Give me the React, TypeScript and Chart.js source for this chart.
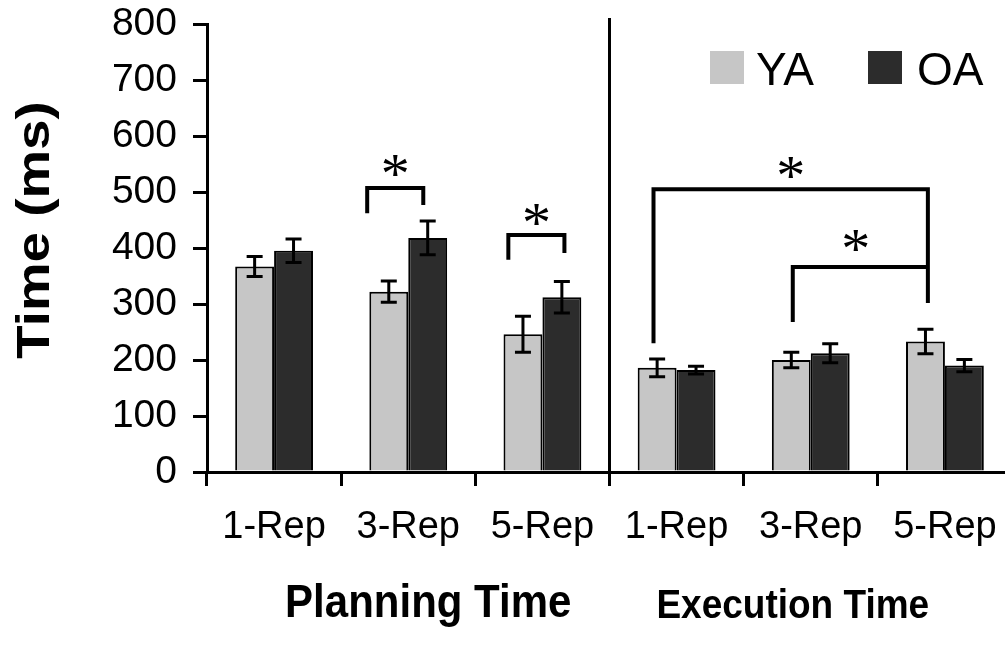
import { useEffect, useRef } from 'react';
import { Chart, registerables } from 'chart.js';

Chart.register(...registerables);

const FONT = '"Liberation Sans", Arial, Helvetica, sans-serif';

// ---- data ----
const categories = ['1-Rep', '3-Rep', '5-Rep', '1-Rep', '3-Rep', '5-Rep'];
const yaValues = [367, 322, 246, 186, 200, 233];
const oaValues = [395, 418, 312, 182, 212, 190];
const yaErrors = [18, 19, 32, 16, 14, 22];
const oaErrors = [21, 30, 28, 7, 17, 11];
const seriesNames = ['YA', 'OA'];
const yMin = 0;
const yMax = 800;
const yStep = 100;
const axisTitle = 'Time (ms)';
const groupLabels = ['Planning Time', 'Execution Time'];
const groupLabelPos = [1.149, 3.866]; // in category units
const groupDivider = 2.5; // category units
// significance brackets: category-unit x range, values for top and leg ends, star position
const bracketFrom = [0.694, 1.746, 2.828, 3.866];
const bracketTo = [1.112, 2.164, 4.873, 4.873];
const bracketTop = [507, 423, 505, 366];
const bracketLeftEnd = [462, 379, 230, 268];
const bracketRightEnd = [477, 391, 302, 366];
const starX = [0.903, 1.955, 3.851, 4.336];
const starY = [552, 464, 548, 418];

const YA_COLOR = '#c6c6c6';
const OA_COLOR = '#2c2c2c';

const annotationPlugin = {
  id: 'annotations',
  afterDatasetsDraw(chart: any) {
    const { ctx, scales } = chart;
    const y = scales.y;
    ctx.save();
    chart.data.datasets.forEach((ds: any, d: number) => {
      const meta = chart.getDatasetMeta(d);
      meta.data.forEach((el: any, i: number) => {
        const v = ds.data[i];
        const e = ds.errors[i];
        const top = y.getPixelForValue(v + e);
        const bot = y.getPixelForValue(v - e);
        ctx.strokeStyle = '#000';
        ctx.lineWidth = 3;
        ctx.beginPath();
        ctx.moveTo(el.x, top);
        ctx.lineTo(el.x, bot);
        ctx.moveTo(el.x - 8, top);
        ctx.lineTo(el.x + 8, top);
        ctx.moveTo(el.x - 8, bot);
        ctx.lineTo(el.x + 8, bot);
        ctx.stroke();
      });
    });
    ctx.restore();
  },
  afterDraw(chart: any) {
    const { ctx, scales, chartArea } = chart;
    const x = scales.x;
    const y = scales.y;
    const p0 = x.getPixelForValue(0);
    const step = x.getPixelForValue(1) - p0;
    const ux = (u: number) => p0 + u * step;
    ctx.save();
    // divider
    ctx.strokeStyle = '#000';
    ctx.lineWidth = 3;
    ctx.beginPath();
    ctx.moveTo(ux(groupDivider), chartArea.top - 6);
    ctx.lineTo(ux(groupDivider), y.getPixelForValue(0));
    ctx.stroke();
    // brackets
    ctx.lineWidth = 4;
    ctx.lineCap = 'butt';
    ctx.lineJoin = 'miter';
    for (let i = 0; i < bracketFrom.length; i++) {
      ctx.beginPath();
      ctx.moveTo(ux(bracketFrom[i]), y.getPixelForValue(bracketLeftEnd[i]));
      ctx.lineTo(ux(bracketFrom[i]), y.getPixelForValue(bracketTop[i]));
      ctx.lineTo(ux(bracketTo[i]), y.getPixelForValue(bracketTop[i]));
      ctx.lineTo(ux(bracketTo[i]), y.getPixelForValue(bracketRightEnd[i]));
      ctx.stroke();
      ctx.fillStyle = '#000';
      ctx.font = '58px "Liberation Serif", "Times New Roman", serif';
      ctx.textAlign = 'center';
      ctx.textBaseline = 'alphabetic';
      ctx.fillText('*', ux(starX[i]), y.getPixelForValue(starY[i]) + 30);
    }
    // legend
    const ds = chart.data.datasets;
    const boxX = [710, 868];
    const textX = [756, 917];
    ctx.font = `46px ${FONT}`;
    ctx.textAlign = 'left';
    ctx.textBaseline = 'alphabetic';
    ds.forEach((d: any, i: number) => {
      ctx.fillStyle = d.backgroundColor;
      ctx.fillRect(boxX[i], 51, 34, 33);
      ctx.fillStyle = '#000';
      ctx.fillText(d.label, textX[i], 85);
    });
    // group labels (slightly tall lettering as in the original)
    ctx.textAlign = 'center';
    ctx.textBaseline = 'middle';
    ctx.save();
    ctx.translate(ux(groupLabelPos[0]), 604);
    ctx.scale(1, 1.12);
    ctx.font = `bold 42px ${FONT}`;
    ctx.fillText(groupLabels[0], 0, 0);
    ctx.restore();
    ctx.save();
    ctx.translate(ux(groupLabelPos[1]), 607);
    ctx.scale(1, 1.1);
    ctx.font = `bold 37px ${FONT}`;
    ctx.fillText(groupLabels[1], 0, 0);
    ctx.restore();
    // y axis title (stretched along its length as in the original)
    ctx.save();
    ctx.translate(36, 230);
    ctx.rotate(-Math.PI / 2);
    ctx.scale(1.19, 1);
    ctx.font = `bold 46px ${FONT}`;
    ctx.fillText(axisTitle, 0, 0);
    ctx.restore();
    ctx.restore();
  },
};

export default function App() {
  const ref = useRef<HTMLCanvasElement>(null);
  useEffect(() => {
    document.body.style.margin = '0';
    const chart = new Chart(ref.current as HTMLCanvasElement, {
      type: 'bar',
      data: {
        labels: categories,
        datasets: [
          {
            label: seriesNames[0],
            data: yaValues,
            errors: yaErrors,
            backgroundColor: YA_COLOR,
            borderColor: '#000',
            borderWidth: 2,
          } as any,
          {
            label: seriesNames[1],
            data: oaValues,
            errors: oaErrors,
            backgroundColor: OA_COLOR,
            borderColor: '#000',
            borderWidth: 2,
          } as any,
        ],
      },
      options: {
        responsive: false,
        animation: false,
        layout: { padding: { top: 24, left: 0, right: 0, bottom: 0 } },
        plugins: { legend: { display: false }, tooltip: { enabled: false } },
        datasets: { bar: { categoryPercentage: 0.58, barPercentage: 1 } },
        scales: {
          x: {
            grid: { offset: true, drawOnChartArea: false, color: '#000', lineWidth: 3, tickLength: 14 },
            border: { color: '#000', width: 3 },
            ticks: { color: '#000', font: { family: FONT, size: 38 }, padding: 19, maxRotation: 0, autoSkip: false },
            afterFit: (s: any) => { s.height = 181; s.paddingLeft = 0; s.paddingRight = 0; },
          },
          y: {
            min: yMin,
            max: yMax,
            ticks: { stepSize: yStep, color: '#000', font: { family: FONT, size: 39 }, padding: 16 },
            grid: { drawOnChartArea: false, color: '#000', lineWidth: 3, tickLength: 14 },
            border: { color: '#000', width: 3 },
            title: { display: false, text: axisTitle },
            afterFit: (s: any) => { s.width = 207; s.paddingTop = 0; s.paddingBottom = 0; },
          },
        },
      } as any,
      plugins: [annotationPlugin],
    });
    return () => chart.destroy();
  }, []);
  return (
    <div style={{ width: 1005, height: 653, overflow: 'hidden' }}>
      <canvas ref={ref} width={1012} height={653} style={{ display: 'block' }} />
    </div>
  );
}
